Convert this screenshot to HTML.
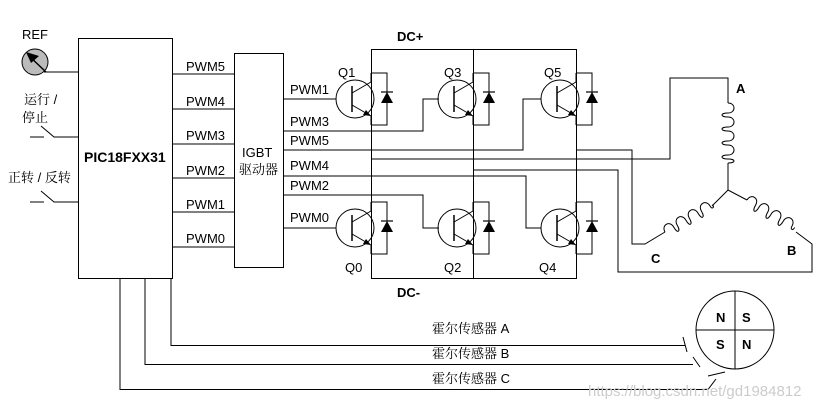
<!DOCTYPE html>
<html><head><meta charset="utf-8"><style>
html,body{margin:0;padding:0;background:#fff;}
svg{display:block;}
text{font-family:"Liberation Sans","Noto Sans CJK SC",sans-serif;font-size:13px;fill:#000;}
.b{font-weight:bold;}
.cn{font-family:"Liberation Sans","Noto Serif CJK SC",sans-serif;font-size:13px;}
</style></head><body>
<svg width="821" height="409" viewBox="0 0 821 409" xmlns="http://www.w3.org/2000/svg">
<defs>
<g id="tr">
  <circle cx="0" cy="0" r="19" fill="none" stroke="#000" stroke-width="1"/>
  <line x1="-3" y1="-13" x2="-3" y2="13" stroke="#000" stroke-width="1.5"/>
  <line x1="-3" y1="-6" x2="16" y2="-17" stroke="#000"/>
  <line x1="-3" y1="6" x2="16" y2="17" stroke="#000"/>
  <polygon points="16,17 8,16 11,11" fill="#000"/>
  <line x1="16" y1="-17" x2="16" y2="-26" stroke="#000"/>
  <line x1="16" y1="17" x2="16" y2="26" stroke="#000"/>
  <polyline points="16,-26 32,-26 32,26 16,26" fill="none" stroke="#000"/>
  <polygon points="32,-7 26,4 38,4" fill="#000"/>
  <line x1="26" y1="-7" x2="38" y2="-7" stroke="#000" stroke-width="1.2"/>
</g>
</defs>
<g stroke="#000" stroke-width="1" fill="none">
<rect x="78.5" y="38.5" width="94" height="240"/>
<rect x="234.5" y="53.5" width="49" height="214"/>
<line x1="44" y1="72" x2="78" y2="72"/>
<line x1="30" y1="137" x2="44" y2="137"/>
<polyline points="41,126 54,137 78,137"/>
<line x1="30" y1="202" x2="44" y2="202"/>
<polyline points="41,191 54,202 78,202"/>
<line x1="172" y1="74" x2="234" y2="74"/>
<line x1="172" y1="109" x2="234" y2="109"/>
<line x1="172" y1="144" x2="234" y2="144"/>
<line x1="172" y1="178" x2="234" y2="178"/>
<line x1="172" y1="212" x2="234" y2="212"/>
<line x1="172" y1="247" x2="234" y2="247"/>
<polyline points="371,49.5 576,49.5"/>
<polyline points="371,278.5 576,278.5"/>
<line x1="371.5" y1="49" x2="371.5" y2="279"/>
<line x1="473.5" y1="49" x2="473.5" y2="279"/>
<line x1="576.5" y1="49" x2="576.5" y2="279"/>
<line x1="283" y1="99" x2="336" y2="99"/>
<polyline points="283,131 423,131 423,99 439,99"/>
<polyline points="283,150 523,150 523,99 541,99"/>
<polyline points="283,176 526,176 526,228 541,228"/>
<polyline points="283,195 423,195 423,228 439,228"/>
<line x1="283" y1="228" x2="336" y2="228"/>
<polyline points="576,150 632,150 632,244 645,244 665,232"/>
<polyline points="371,159 670,159 670,78 728,78 728,103"/>
<polyline points="473,170 618,170 618,272 812,272 812,244 796,232"/>
<line x1="728" y1="163" x2="728" y2="190"/>
<polyline points="712,206 728,190 747,200"/>
<polyline points="171,278 171,345.5 685,345.5"/>
<polyline points="145,278 145,364.5 693,364.5"/>
<polyline points="120,278 120,389.5 708,389.5 716,379"/>
<line x1="683" y1="337" x2="687" y2="352"/>
<line x1="693" y1="357" x2="700" y2="367"/>
<line x1="708" y1="376" x2="725" y2="372"/>
<circle cx="735" cy="330" r="39"/>
<line x1="696" y1="330" x2="774" y2="330"/>
<line x1="735" y1="291" x2="735" y2="369"/>
</g>
<g stroke="#000" fill="none" stroke-width="1">
<path d="M728,103 c8,0 8,10 0,10 c-8,0 -8,4 0,4 c8,0 8,10 0,10 c-8,0 -8,4 0,4 c8,0 8,10 0,10 c-8,0 -8,4 0,4 c8,0 8,10 0,10 c-8,0 -8,4 0,4 c8,0 8,4 0,4"/>
<g transform="translate(665,232) rotate(-30)"><path d="M0,0 c0,-8 10,-8 10,0 c0,8 4,8 4,0 c0,-8 10,-8 10,0 c0,8 4,8 4,0 c0,-8 10,-8 10,0 c0,8 4,8 4,0 c0,-8 10,-8 10,0 c0,4 3,4 3,0"/></g>
<g transform="translate(747,200) rotate(30)"><path d="M0,0 c0,-8 10,-8 10,0 c0,8 4,8 4,0 c0,-8 10,-8 10,0 c0,8 4,8 4,0 c0,-8 10,-8 10,0 c0,8 4,8 4,0 c0,-8 10,-8 10,0 c0,4 3,4 3,0"/></g>
</g>
<use href="#tr" x="355" y="99"/>
<use href="#tr" x="457" y="99"/>
<use href="#tr" x="560" y="99"/>
<use href="#tr" x="355" y="228"/>
<use href="#tr" x="457" y="228"/>
<use href="#tr" x="560" y="228"/>
<circle cx="35" cy="62" r="13" fill="#bbb" stroke="#000"/>
<line x1="28" y1="55" x2="46" y2="72" stroke="#000" stroke-width="1.5"/>
<polygon points="26,52 39,56 31,63" fill="#000"/>
<text x="22" y="39">REF</text>
<text x="24" y="104" class="cn">运行 /</text>
<text x="22" y="122" class="cn">停止</text>
<text x="8" y="182" class="cn">正转 / 反转</text>
<text x="84" y="162" class="b" style="font-size:14px">PIC18FXX31</text>
<text x="186" y="71">PWM5</text>
<text x="186" y="106">PWM4</text>
<text x="186" y="140">PWM3</text>
<text x="186" y="175">PWM2</text>
<text x="186" y="209">PWM1</text>
<text x="186" y="243">PWM0</text>
<text x="242" y="157">IGBT</text>
<text x="239" y="174" class="cn">驱动器</text>
<text x="290" y="94">PWM1</text>
<text x="290" y="126">PWM3</text>
<text x="290" y="145">PWM5</text>
<text x="290" y="170">PWM4</text>
<text x="290" y="190">PWM2</text>
<text x="290" y="222">PWM0</text>
<text x="338" y="77">Q1</text>
<text x="444" y="77">Q3</text>
<text x="544" y="77">Q5</text>
<text x="345" y="272">Q0</text>
<text x="444" y="272">Q2</text>
<text x="539" y="272">Q4</text>
<text x="397" y="41" class="b">DC+</text>
<text x="397" y="297" class="b">DC-</text>
<text x="736" y="93" class="b">A</text>
<text x="787" y="255" class="b">B</text>
<text x="651" y="263" class="b">C</text>
<text x="716" y="322" class="b">N</text>
<text x="742" y="322" class="b">S</text>
<text x="716" y="349" class="b">S</text>
<text x="742" y="349" class="b">N</text>
<text x="432" y="333" class="cn">霍尔传感器 A</text>
<text x="432" y="358" class="cn">霍尔传感器 B</text>
<text x="432" y="383" class="cn">霍尔传感器 C</text>
<text x="588" y="396" style="fill:#ccc;font-size:15px">https://blog.csdn.net/gd1984812</text>
</svg>
</body></html>
